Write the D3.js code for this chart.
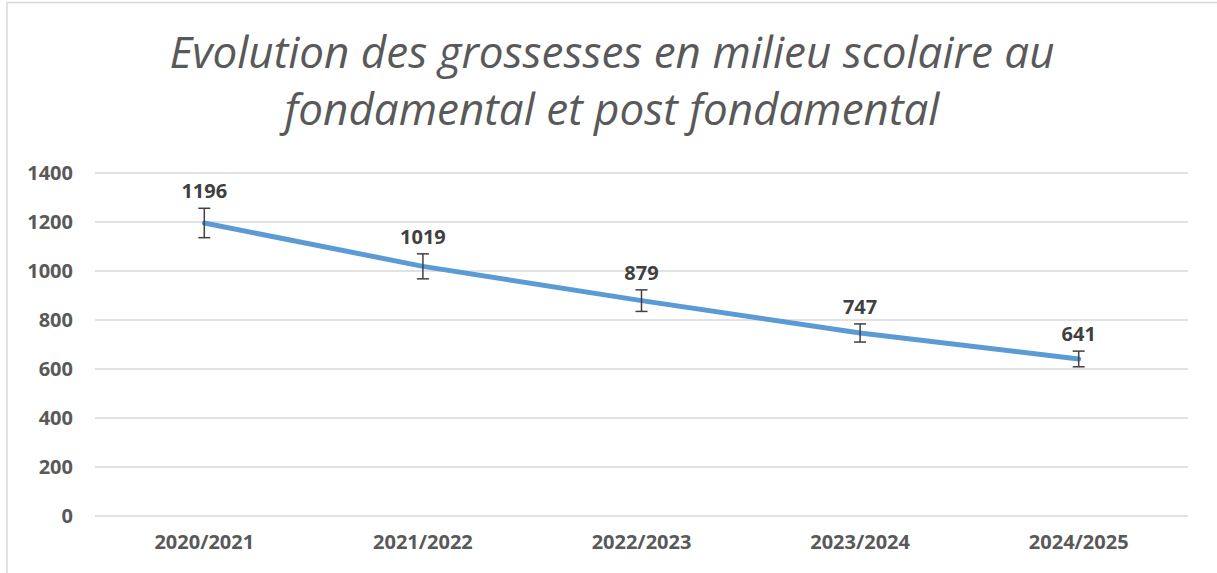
<!DOCTYPE html>
<html>
<head>
<meta charset="utf-8">
<script src="https://cdn.jsdelivr.net/npm/d3@7"></script>
<style>
  body { margin: 0; background: #fff; }
  svg { display: block; }
</style>
</head>
<body>
<svg class="chart" width="1217" height="573"></svg>
<script>
// data
let years = ["2020/2021", "2021/2022", "2022/2023", "2023/2024", "2024/2025"];
let cases = [1196, 1019, 879, 747, 641];
let errors = [60, 51, 44, 37, 32];
let yTicks = [0, 200, 400, 600, 800, 1000, 1200, 1400];
let titleLines = ["Evolution des grossesses en milieu scolaire au", "fondamental et post fondamental"];

let data = years.map((y, i) => ({year: y, value: cases[i], err: errors[i]}));

let svg = d3.select(".chart");
let margin = {top: 173, right: 29, bottom: 57, left: 95};
let plotWidth = 1217 - margin.left - margin.right;
let plotHeight = 573 - margin.top - margin.bottom;

// chart frame
svg.append("rect")
  .attr("x", 7).attr("y", 2.5)
  .attr("width", 1240).attr("height", 600)
  .attr("fill", "none")
  .attr("stroke", "#d9d9d9")
  .attr("stroke-width", 1.5);

// title
let title = svg.append("text")
  .attr("text-anchor", "middle")
  .style("font-family", "'Open Sans'")
  .style("font-style", "italic")
  .style("font-size", "44px")
  .attr("fill", "#595959");
title.selectAll("tspan")
  .data(titleLines)
  .enter().append("tspan")
  .attr("x", 612)
  .attr("y", (d, i) => 68 + i * 57)
  .text(d => d);

let x = d3.scaleBand()
  .domain(years)
  .range([0, plotWidth]);
let y = d3.scaleLinear()
  .domain([0, 1400])
  .range([plotHeight, 0]);

let plot = svg.append("g").attr("transform", translate(margin.left, margin.top));

// gridlines
plot.append("g")
  .selectAll("line")
  .data(yTicks)
  .enter().append("line")
  .attr("x1", 0).attr("x2", plotWidth)
  .attr("y1", d => y(d)).attr("y2", d => y(d))
  .attr("stroke", "#d9d9d9")
  .attr("stroke-width", 1.5);

let yAxis = d3.axisLeft(y).tickValues(yTicks).tickFormat(d3.format("d")).tickSize(0).tickPadding(22);
let yGroup = plot.append("g").call(yAxis);
yGroup.select(".domain").remove();
yGroup.selectAll("text")
  .style("font-family", "'Open Sans'")
  .style("font-weight", "bold")
  .style("font-size", "20px")
  .attr("fill", "#595959");

let xAxis = d3.axisBottom(x).tickSize(0).tickPadding(19);
let xGroup = plot.append("g").attr("transform", translate(0, plotHeight)).call(xAxis);
xGroup.select(".domain").remove();
xGroup.selectAll("text")
  .style("font-family", "'Open Sans'")
  .style("font-weight", "bold")
  .style("font-size", "20px")
  .attr("fill", "#595959");

let cx = d => x(d.year) + x.bandwidth() / 2;

// line
let line = d3.line().x(cx).y(d => y(d.value));
plot.append("path")
  .datum(data)
  .attr("d", line)
  .attr("fill", "none")
  .attr("stroke", "#5b9bd5")
  .attr("stroke-width", 5)
  .attr("stroke-linecap", "round")
  .attr("stroke-linejoin", "round");

// error bars
let eb = plot.append("g").selectAll("g")
  .data(data)
  .enter().append("g")
  .attr("stroke", "#404040")
  .attr("stroke-width", 1.5);
eb.append("line")
  .attr("x1", cx).attr("x2", cx)
  .attr("y1", d => y(d.value + d.err)).attr("y2", d => y(d.value - d.err));
eb.append("line")
  .attr("x1", d => cx(d) - 6).attr("x2", d => cx(d) + 6)
  .attr("y1", d => y(d.value + d.err)).attr("y2", d => y(d.value + d.err));
eb.append("line")
  .attr("x1", d => cx(d) - 6).attr("x2", d => cx(d) + 6)
  .attr("y1", d => y(d.value - d.err)).attr("y2", d => y(d.value - d.err));

// data labels
plot.append("g").selectAll("text")
  .data(data)
  .enter().append("text")
  .attr("x", cx)
  .attr("y", d => y(d.value + d.err) - 10)
  .attr("text-anchor", "middle")
  .style("font-family", "'Open Sans'")
  .style("font-weight", "bold")
  .style("font-size", "20px")
  .attr("fill", "#404040")
  .text(d => d.value);

function translate(x, y) {
  return 'translate(' + x + ',' + y + ')';
}
</script>
</body>
</html>
